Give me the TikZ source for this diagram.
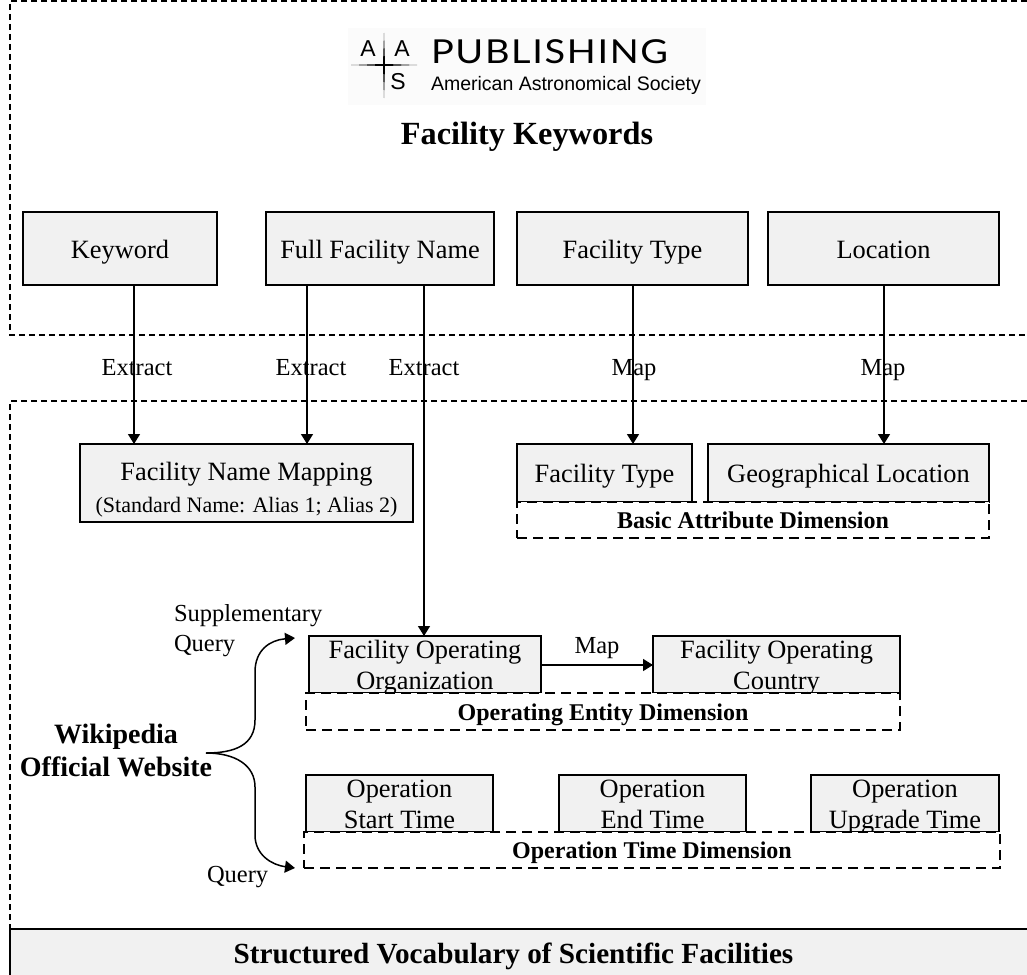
\documentclass[tikz,border=0pt]{standalone}
\usepackage{fontspec}
\setmainfont{Liberation Serif}
\newfontfamily\logofont[FakeStretch=1.15,LetterSpace=5]{Lato}
\newfontfamily\logosub{Liberation Sans}
\usetikzlibrary{arrows.meta}
\tikzset{
  x=1pt,y=-1pt,
  every node/.style={inner sep=0pt,outer sep=0pt,font=\fontsize{26.4}{31}\selectfont},
  wh/.style 2 args={minimum width=#1pt,minimum height=#2pt},
  graybox/.style={draw=black,line width=1.7pt,fill=gray!11,anchor=north west,align=center},
  oneline/.style={text height=19pt,text depth=0pt},
  dimbox/.style={draw=black,line width=1.6pt,fill=white,anchor=north west,align=center,dash pattern=on 10pt off 6pt,font=\fontsize{24}{28}\bfseries\selectfont,text height=17pt,text depth=0pt},
  twoline/.style={label={[font=\fontsize{26.4}{31.5}\selectfont,align=center,yshift=-3pt]center:#1}},
  outer/.style={line width=1.3pt,dash pattern=on 6pt off 4pt},
  arr/.style={line width=1.5pt,-{Triangle[length=10pt,width=12pt]}},
  lab/.style={font=\fontsize{24.5}{29}\selectfont,align=center,text height=17pt,text depth=0pt},
  txt/.style={font=\fontsize{24.5}{29}\selectfont,align=left,anchor=west,text height=17pt,text depth=0pt},
  hbold/.style={font=\fontsize{28}{33}\bfseries\selectfont,align=center},
  logoletter/.style={font=\logosub\fontsize{23}{25}\selectfont}
}
\begin{document}
\begin{tikzpicture}
\useasboundingbox (0,0) rectangle (1027,974);
\clip (0,0) rectangle (1027,974);
% outer dashed frames
\draw[outer] (1027,1) -- (10,1) -- (10,335) -- (1027,335);
\draw[outer] (1027,401) -- (10,401) -- (10,929);
% logo
\fill[gray!3] (348,28) rectangle (706,105);
\fill (384,33) -- (385,64) -- (417,65) -- (385,66) -- (384,98) -- (383,66) -- (351,65) -- (383,64) -- cycle;
\node[logoletter] (la1) at (368,49) {A};
\node[logoletter] (la2) at (402,49) {A};
\node[logoletter] (la3) at (398,82) {S};
\node[font=\logofont\fontsize{33}{36}\selectfont,anchor=west] (pub) at (431,52) {PUBLISHING};
\node[font=\logosub\fontsize{19.5}{22}\selectfont,anchor=west] (aas) at (431,85) {American Astronomical Society};
\node[font=\fontsize{32.3}{38}\bfseries\selectfont] (title) at (527,137) {Facility Keywords};
% top row
\node[graybox,oneline,wh={194}{73}] (kw) at (23,212) {Keyword};
\node[graybox,oneline,wh={228}{73}] (full) at (266,212) {Full Facility Name};
\node[graybox,oneline,wh={231}{73}] (ftype) at (517,212) {Facility Type};
\node[graybox,oneline,wh={231}{73}] (loc) at (768,212) {Location};
% mapping
\node[graybox,wh={333}{78},label={[font=\fontsize{26.4}{31.5}\selectfont,align=center,yshift=-7pt]center:Facility Name Mapping\strut\\{\fontsize{22}{31.5}\selectfont (Standard Name: Alias 1; Alias 2)\strut}}] (map) at (80,444) {};
% basic attribute
\node[graybox,oneline,wh={175}{58}] (type2) at (517,444) {Facility Type};
\node[graybox,oneline,wh={281}{58}] (geo) at (708,444) {Geographical Location};
\node[dimbox,wh={472}{36}] (basic) at (517,502) {Basic Attribute Dimension};
% operating entity
\node[graybox,wh={232}{57},twoline={Facility Operating\strut\\Organization\strut}] (org) at (309,636) {};
\node[graybox,wh={247}{57},twoline={Facility Operating\strut\\Country\strut}] (country) at (653,636) {};
\node[dimbox,wh={594}{37}] (entity) at (306,693) {Operating Entity Dimension};
% operation time
\node[graybox,wh={187}{57},twoline={Operation\strut\\Start Time\strut}] (start) at (306,775) {};
\node[graybox,wh={187}{57},twoline={Operation\strut\\End Time\strut}] (end) at (559,775) {};
\node[graybox,wh={188}{57},twoline={Operation\strut\\Upgrade Time\strut}] (upg) at (811,775) {};
\node[dimbox,wh={696}{36}] (time) at (304,832) {Operation Time Dimension};
% bottom bar
\node[graybox,wh={1040}{70}] (bar) at (10,929) {};
\node[font=\fontsize{29.2}{34}\bfseries\selectfont,text height=20pt,text depth=0pt] (bartext) at (513.5,953) {Structured Vocabulary of Scientific Facilities};
% connectors
\coordinate (a1) at ([xshift=14pt]kw.south);
\coordinate (a2) at ([xshift=-73pt]full.south);
\coordinate (a3) at ([xshift=44pt]full.south);
\coordinate (a4) at ([xshift=.5pt]ftype.south);
\coordinate (a5) at ([xshift=.5pt]loc.south);
\draw[arr] (a1) -- (map.north -| a1);
\draw[arr] (a2) -- (map.north -| a2);
\draw[arr] (a3) -- (org.north -| a3);
\draw[arr] (a4) -- (type2.north -| a4);
\draw[arr] (a5) -- (geo.north -| a5);
\draw[arr] ([yshift=-.5pt]org.east) -- ([yshift=-.5pt]country.west);
% labels
\node[lab] (e1) at (137,367) {Extract};
\node[lab] (e2) at (311,367) {Extract};
\node[lab] (e3) at (424,367) {Extract};
\node[lab] (m1) at (634,367) {Map};
\node[lab] (m2) at (883,367) {Map};
\node[lab] (m3) at (597,645) {Map};
\node[txt] (sq) at (174,613) {Supplementary};
\node[txt] (sq2) at (174,643) {Query};
\node[txt] (q) at (207,874) {Query};
\node[hbold] (wiki) at (116,750) {Wikipedia\\Official Website};
% brace
\coordinate (bt) at (295,638);
\coordinate (bb) at (295,868);
\coordinate (bs) at (206,753);
\draw[arr] (bs) .. controls (235,753) and (255,745) .. (255,720) -- (255,672) .. controls (255,650) and (270,640) .. (bt);
\draw[arr] (bs) .. controls (235,753) and (255,765) .. (255,787) -- (255,835) .. controls (255,855) and (272,865) .. (bb);
\end{tikzpicture}
\end{document}
